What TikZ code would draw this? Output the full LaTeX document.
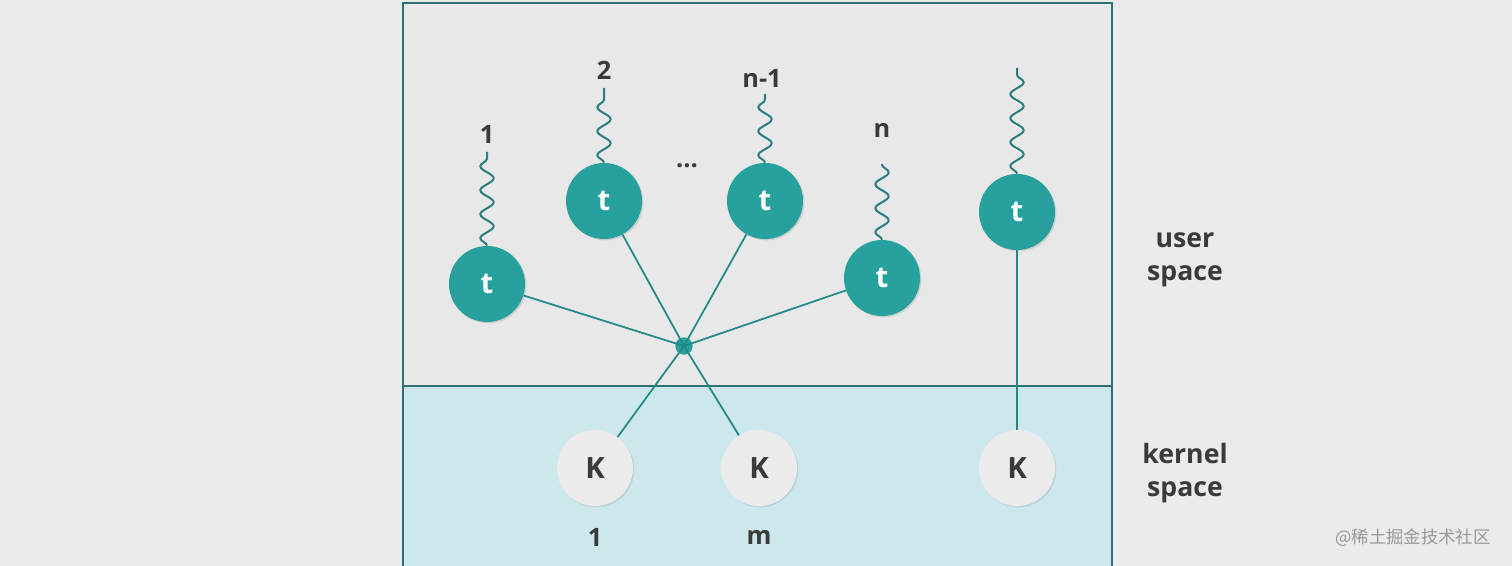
\documentclass[tikz,border=0pt]{standalone}
\usepackage{fontspec}
\setmainfont{Open Sans}
\newfontfamily\cjk{Noto Sans CJK SC}
\usetikzlibrary{decorations.pathmorphing,shadows}
\definecolor{bg}{HTML}{EBEBEB}
\definecolor{upper}{HTML}{E8E8E8}
\definecolor{lower}{HTML}{CDE8EC}
\definecolor{frame}{HTML}{2D6F73}
\definecolor{teal}{HTML}{26A19E}
\definecolor{txt}{HTML}{3A3A3A}
\begin{document}
\begin{tikzpicture}[x=0.75pt,y=-0.75pt,
  th/.style={circle,fill=teal,minimum size=57pt,inner sep=0pt,text=white,font=\fontsize{22}{22}\selectfont\bfseries,drop shadow={opacity=0.25,shadow xshift=1pt,shadow yshift=-1pt}},
  kn/.style={circle,fill=bg,minimum size=57pt,inner sep=0pt,text=txt,font=\fontsize{22}{22}\selectfont\bfseries,drop shadow={opacity=0.2,shadow xshift=1pt,shadow yshift=-1pt}},
  lab/.style={text=txt,font=\bfseries\fontsize{19}{19}\selectfont},
  side/.style={text=txt,font=\bfseries\fontsize{20}{25}\selectfont,align=center},
  link/.style={draw=teal!85!black,line width=1.3pt},
  wave/.style={draw=frame!70!teal,line width=1.5pt,decorate,decoration={snake,amplitude=5pt,segment length=18pt}}]
\useasboundingbox (0,0) rectangle (1512,566);
\fill[bg] (0,0) rectangle (1512,566);
\fill[upper] (403,3) rectangle (1112,386);
\fill[lower] (403,386) rectangle (1112,570);
\draw[frame,line width=1pt] (403,570) -- (403,3) -- (1112,3) -- (1112,570);
\draw[frame,line width=1pt] (403,386) -- (1112,386);
% nodes
\node[th] (t1) at (487,284) {t};
\node[th] (t2) at (604,201) {t};
\node[th] (t3) at (765,201) {t};
\node[th] (t4) at (882,278) {t};
\node[th] (t5) at (1017,212) {t};
\node[circle,fill=teal,minimum size=13pt,inner sep=0pt] (h) at (684,346) {};
\node[kn] (k1) at (595,468) {K};
\node[kn] (k2) at (759,468) {K};
\node[kn] (k3) at (1017,468) {K};
% links
\draw[link] (t1) -- (h.center);
\draw[link] (t2) -- (h.center);
\draw[link] (t3) -- (h.center);
\draw[link] (t4) -- (h.center);
\draw[link] (h.center) -- (k1);
\draw[link] (h.center) -- (k2);
\draw[link] (t5) -- (k3);
% waves
\coordinate (w1) at (487,152);
\coordinate (w2) at (604,88);
\coordinate (w3) at (765,94);
\coordinate (w4) at (882,164);
\coordinate (w5) at (1017,68);
\draw[wave] (t1.north) -- (w1);
\draw[wave] (t2.north) -- (w2);
\draw[wave] (t3.north) -- (w3);
\draw[wave] (t4.north) -- (w4);
\draw[wave] (t5.north) -- (w5);
% labels
\node[lab] (l1) at (487,134) {1};
\node[lab] (l2) at (604,70) {2};
\node[lab] (l3) at (762,78) {n-1};
\node[lab] (l4) at (882,130) {n};
\node[lab] (dots) at (687,166) {...};
\node[lab] (m1) at (595,537) {1};
\node[lab] (m2) at (759,537) {m};
\node[side] (us) at (1185,260) {user\\space};
\node[side] (ks) at (1185,473) {kernel\\space};
\node[text=gray!80,font=\cjk\fontsize{13}{13}\selectfont] (wm) at (1413,538) {@稀土掘金技术社区};
\end{tikzpicture}
\end{document}
